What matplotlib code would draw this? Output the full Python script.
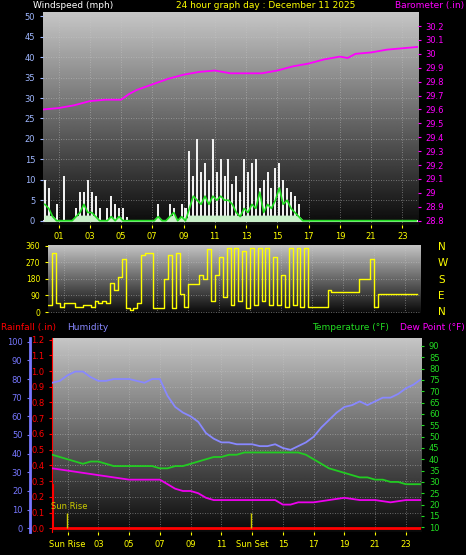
import matplotlib

matplotlib.use("Agg")
import matplotlib.pyplot as plt
import numpy as np

# ---- data ----
quarter_hours = np.arange(96) * 0.25
gust_mph = [10, 8, 0, 4, 0, 11, 0, 0, 3, 7, 7, 10, 7, 6, 3, 0,
            3, 6, 4, 3, 3, 1, 0, 0, 0, 0, 0, 0, 0, 4, 0, 0,
            4, 3, 0, 4, 3, 17, 11, 20, 12, 14, 10, 20, 12, 15, 11, 15,
            9, 11, 7, 15, 12, 14, 15, 8, 10, 12, 8, 13, 14, 10, 8, 7,
            6, 4, 0, 0] + [0] * 28
avg_mph = [4, 3, 1, 0, 0, 0, 0, 0, 1, 2, 4, 2, 2, 1, 0, 0,
           0, 1, 0, 1, 0, 0, 0, 0, 0, 0, 0, 0, 0, 1, 0, 0,
           1, 2, 0, 1, 0, 3, 6, 5, 4, 6, 4, 6, 5, 6, 5, 5,
           4, 2, 1, 3, 2, 4, 3, 7, 2, 4, 3, 5, 8, 4, 5, 3,
           2, 1, 0, 0] + [0] * 28
wind_dir = [40, 320, 50, 30, 50, 50, 50, 30, 30, 40, 40, 30, 60, 50, 60, 50,
            160, 120, 190, 290, 20, 10, 20, 50, 310, 320, 320, 20, 20, 20, 180, 310,
            20, 320, 100, 30, 150, 150, 150, 200, 180, 340, 60, 200, 300, 80, 350, 40,
            350, 60, 330, 20, 350, 40, 350, 60, 350, 40, 300, 40, 200, 30, 350, 40,
            350, 30, 350, 30, 30, 30, 30, 30, 120, 110, 110, 110, 110, 110, 110, 110,
            180, 180, 180, 290, 30, 100, 100, 100, 100, 100, 100, 100, 100, 100, 100, 100]

baro_hours = [0, 1, 2, 3, 4, 5, 5.5, 6, 7, 8, 9, 10, 11, 12, 13, 14, 15, 16,
              17, 18, 19, 19.5, 20, 21, 22, 23, 24]
baro_in = [29.60, 29.61, 29.63, 29.66, 29.67, 29.67, 29.71, 29.74, 29.78, 29.82,
           29.85, 29.87, 29.88, 29.86, 29.86, 29.86, 29.88, 29.91, 29.93, 29.96,
           29.98, 29.97, 30.00, 30.01, 30.03, 30.04, 30.05]

half_hours = np.arange(49) * 0.5
humidity = [78, 79, 82, 84, 84, 81, 79, 79, 80, 80, 80, 79, 78, 80, 80, 71,
            65, 62, 60, 57, 51, 48, 46, 46, 45, 45, 45, 44, 44, 45, 43, 42,
            44, 46, 49, 54, 58, 62, 65, 66, 68, 66, 68, 70, 70, 72, 75, 77, 80]
temp_f = [42, 41, 40, 39, 38, 39, 39, 38, 37, 37, 37, 37, 37, 37, 36, 36,
          37, 37, 38, 39, 40, 41, 41, 42, 42, 43, 43, 43, 43, 43, 43, 43,
          43, 42, 40, 38, 36, 35, 34, 33, 32, 32, 31, 31, 30, 30, 29, 29, 29]
dew_f = [36, 35.5, 35, 34.5, 34, 33.5, 33, 32.5, 32, 31.5, 31, 31, 31, 31, 31, 29,
         27, 26, 26, 25, 23, 22, 22, 22, 22, 22, 22, 22, 22, 22, 20, 20,
         21, 21, 21, 21.5, 22, 22.5, 23, 22.5, 22, 22, 22, 21.5, 21, 21.5, 22, 22, 22]
rain_in = 0.0
sunrise_h, sunset_h = 0.97, 12.9
hour_labels = [f"{h:02d}" for h in range(1, 24, 2)]
baro_ticks = [28.8, 28.9, 29.0, 29.1, 29.2, 29.3, 29.4, 29.5, 29.6, 29.7,
              29.8, 29.9, 30.0, 30.1, 30.2]

BG = "black"
fig = plt.figure(figsize=(4.66, 5.55), dpi=100, facecolor=BG)
grad = np.linspace(1, 0, 256).reshape(-1, 1)


def backdrop(ax):
    ax.imshow(grad, cmap="gray", vmin=-0.05, vmax=1.3, aspect="auto",
              extent=(0, 24, *ax.get_ylim()), zorder=0, interpolation="bilinear")
    ax.grid(True, color="#c8c8c8", ls=(0, (1, 2)), lw=0.6, alpha=0.6)
    for s in ax.spines.values():
        s.set_visible(False)
    ax.set_xlim(0, 24)


fs = 6
# ---- panel 1: wind + barometer ----
ax1 = fig.add_axes([0.092, 0.595, 0.805, 0.383])
ax1.set_ylim(-1, 51)
backdrop(ax1)
ax1.bar(quarter_hours + 0.125, gust_mph, width=0.13, color="#f0f0f0", zorder=2)
ax1.fill_between(quarter_hours + 0.125, 0, np.minimum(avg_mph, 1.2), color="#c8f0c8", zorder=2)
ax1.plot(quarter_hours + 0.125, avg_mph, color="#22dd22", lw=1.2, zorder=3)
ax1.axhline(0, color="#dddddd", lw=1.5, zorder=1)
ax1.set_yticks(range(0, 51, 5))
ax1.set_xticks(range(1, 24, 2), hour_labels)
ax1.tick_params(axis="y", colors="#9fb7ff", labelsize=fs, length=2)
ax1.tick_params(axis="x", colors="yellow", labelsize=fs, length=2)
axb = ax1.twinx()
k = 1.47 / 50
axb.set_ylim(28.8 - k, 28.8 + 51 * k)
axb.plot(baro_hours, baro_in, color="#ff00ff", lw=1.3)
axb.set_yticks(baro_ticks, [f"{v:g}" for v in baro_ticks])
axb.tick_params(axis="y", colors="#ff00ff", labelsize=fs, length=2)
for s in axb.spines.values():
    s.set_visible(False)

fig.text(0.07, 0.998, "Windspeed (mph)", color="white", fontsize=6.5, va="top")
fig.text(0.57, 0.998, "24 hour graph day : December 11 2025", color="yellow",
         fontsize=6.5, va="top", ha="center")
fig.text(0.995, 0.998, "Barometer (.in)", color="#ff00ff", fontsize=6.5, va="top", ha="right")

# ---- panel 2: wind direction ----
ax2 = fig.add_axes([0.103, 0.436, 0.80, 0.123])
ax2.set_ylim(-5, 365)
backdrop(ax2)
ax2.step(quarter_hours, wind_dir, where="post", color="yellow", lw=1)
ax2.set_yticks([0, 90, 180, 270, 360])
ax2.set_xticks(range(1, 24, 2), [])
ax2.tick_params(axis="y", colors="yellow", labelsize=5.5, length=2)
ax2.tick_params(axis="x", length=0)
for i, c in enumerate("NWSEN"):
    fig.text(0.94, 0.555 - i * 0.0295, c, color="yellow", fontsize=7.5, va="center")

# ---- panel 3: rain, humidity, temperature, dew point ----
ax3 = fig.add_axes([0.112, 0.041, 0.792, 0.35])
ax3.set_ylim(-0.025, 1.21)
backdrop(ax3)
ax3.axhline(rain_in, color="red", lw=2, zorder=5)
ax3.vlines(0.05, 0, 0.28, color="red", lw=1.5, zorder=5)
ax3.vlines([sunrise_h, sunset_h], 0, 0.1, color="#cccc00", lw=1, zorder=5)
ax3.text(-0.1, 0.12, "Sun Rise", color="#cccc00", fontsize=6, zorder=6)
ax3.set_yticks(np.round(np.arange(0, 1.21, 0.1), 1))
ax3.tick_params(axis="y", colors="red", labelsize=fs, length=2)
ax3.spines["left"].set_visible(True)
ax3.spines["left"].set_color("red")
ax3.set_xticks(range(1, 24, 2),
               ["Sun Rise" if h == 1 else "Sun Set" if h == 13 else f"{h:02d}"
                for h in range(1, 24, 2)])
ax3.tick_params(axis="x", colors="yellow", labelsize=fs, length=2)

axh = ax3.twinx()
axh.set_ylim(-2.2, 102)
axh.plot(half_hours, humidity, color="#8888ff", lw=1.3)
axh.yaxis.set_ticks_position("left")
axh.spines["left"].set_position(("axes", -0.06))
for s in axh.spines.values():
    s.set_visible(False)
axh.spines["left"].set_visible(True)
axh.spines["left"].set_color("#7777ff")
axh.spines["left"].set_linewidth(2)
axh.set_yticks(range(0, 101, 10))
axh.tick_params(axis="y", colors="#7777ff", labelsize=fs, length=2)

axt = ax3.twinx()
axt.set_ylim(7.8, 93.5)
axt.plot(half_hours, temp_f, color="#22cc22", lw=1.3)
axt.plot(half_hours, dew_f, color="#ee00ee", lw=1.3)
axt.set_yticks(range(10, 91, 5))
axt.tick_params(axis="y", colors="#22dd22", labelsize=fs, length=2)
for s in axt.spines.values():
    s.set_visible(False)

fig.text(0.003, 0.41, "Rainfall (.in)", color="red", fontsize=6.5, va="center")
fig.text(0.145, 0.41, "Humidity", color="#8888ff", fontsize=6.5, va="center")
fig.text(0.67, 0.41, "Temperature (°F)", color="#22dd22", fontsize=6.5, va="center")
fig.text(0.998, 0.41, "Dew Point (°F)", color="#ff00ff", fontsize=6.5, va="center", ha="right")

fig.savefig("out.png", dpi=100, facecolor=BG)
